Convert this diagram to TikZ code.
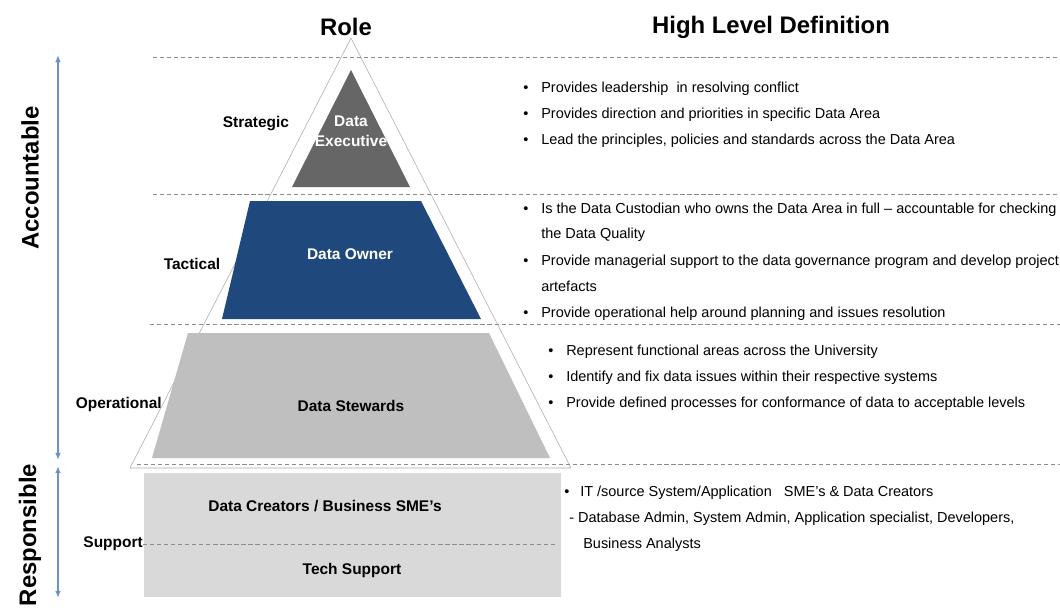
\documentclass[tikz,border=0pt]{standalone}
\usepackage{fontspec}
\setmainfont{Liberation Sans}
\usetikzlibrary{calc,arrows.meta}
\definecolor{execgray}{HTML}{666666}
\definecolor{ownerblue}{HTML}{1F497D}
\definecolor{stewgray}{HTML}{BFBFBF}
\definecolor{suppgray}{HTML}{D9D9D9}
\definecolor{arrowblue}{HTML}{7092C8}
\definecolor{dashgray}{HTML}{8C8C8C}
\tikzset{
  sep/.style={dashgray,line width=0.7pt,dash pattern=on 3pt off 2pt},
  lvl/.style={font=\fontsize{11}{14}\selectfont\bfseries},
  role/.style={lvl,align=center,inner sep=0pt},
  head/.style={font=\fontsize{17}{20}\selectfont\bfseries},
  side/.style={head,rotate=90},
  txt/.style={font=\fontsize{10.3}{12}\selectfont,anchor=base west,inner sep=0pt},
  span/.style={arrowblue,line width=1pt,{Latex[length=5pt,width=4pt]}-{Latex[length=5pt,width=4pt]}}
}

\begin{document}
\begin{tikzpicture}[x=0.025cm,y=-0.025cm]
\useasboundingbox (0,0) rectangle (1060,612);
%PYRAMID
\draw[gray!65,fill=white] (351,38) coordinate (apex) -- (571,468) coordinate (br) -- (130,468) coordinate (bl) -- cycle;
\foreach \y/\x in {57/153,194/153,324/150,464/137}
  \draw[sep] (\x,\y) -- (1060,\y);
\fill[execgray] (351,70) -- (410,187) -- (292,187) -- cycle;
\fill[ownerblue] (250,201) -- (421,201) -- (481,319) -- (222,319) -- cycle;
\fill[stewgray] (188,333) -- (489,333) -- (550,458) -- (152,458) -- cycle;
\filldraw[fill=suppgray,draw=gray!30,line width=1pt] (145,474) rectangle (560,596);
%TITLES
\node[head] (role) at (346,27) {Role};
\node[head] (def) at (771,27) {High Level Definition};
\node[side] (acc) at (30,178) {Accountable};
\node[side] (resp) at (30,535) {Responsible};
\draw[span] (58,55) coordinate (a1) -- (58,460) coordinate (a2);
\draw[span] (58,466) coordinate (r1) -- (58,598) coordinate (r2);
%LEVELS
\node[lvl] (strat) at (256,124) {Strategic};
\node[lvl] (tact) at (192,264) {Tactical};
\node[lvl,anchor=east,inner sep=0pt] (oper) at (162,404) {Operational};
\node[lvl,anchor=east,inner sep=0pt] (supp) at (143,544) {Support};
\draw[sep] (supp.east) -- (557,544);
\node[role,white] (exec) at (351,131) {Data\\Executive};
\node[role,white] (owner) at (350,254) {Data Owner};
\node[role] (stew) at (351,406) {Data Stewards};
\node[role] (crea) at (325,506) {Data Creators / Business SME’s};
\node[role] (tech) at (352,570) {Tech Support};
%DEFINITIONS
\node[txt] (b1) at (523,92) {•};
\node[txt] (s1) at (541,92) {Provides leadership\ \ in resolving conflict};
\node[txt] (b2) at (523,118) {•};
\node[txt] (s2) at (541,118) {Provides direction and priorities in specific Data Area};
\node[txt] (b3) at (523,144) {•};
\node[txt] (s3) at (541,144) {Lead the principles, policies and standards across the Data Area};
\node[txt] (b4) at (523,213) {•};
\node[txt] (t1) at (541,213) {Is the Data Custodian who owns the Data Area in full – accountable for checking};
\node[txt] (t1b) at (541,238) {the Data Quality};
\node[txt] (b5) at (523,265) {•};
\node[txt] (t2) at (541,265) {Provide managerial support to the data governance program and develop project};
\node[txt] (t2b) at (541,291) {artefacts};
\node[txt] (b6) at (523,317) {•};
\node[txt] (t3) at (541,317) {Provide operational help around planning\ and issues resolution};
\node[txt] (b7) at (548,355) {•};
\node[txt] (o1) at (566,355) {Represent functional areas across the University};
\node[txt] (b8) at (548,381) {•};
\node[txt] (o2) at (566,381) {Identify and fix data issues within\ their respective systems};
\node[txt] (b9) at (548,407) {•};
\node[txt] (o3) at (566,407) {Provide defined processes for conformance of data to acceptable levels};
\node[txt] (b10) at (564,496) {•};
\node[txt] (p1) at (580,496) {IT /source System/Application\ \ \ SME’s \& Data Creators};
\node[txt] (p2) at (569,522) {- Database Admin,\ System Admin,\ Application\ specialist, Developers,};
\node[txt] (p3) at (583,548) {Business Analysts};
\end{tikzpicture}
\end{document}
